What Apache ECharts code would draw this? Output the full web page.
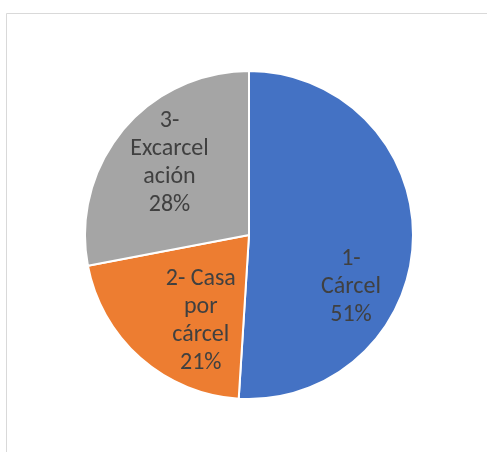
<!DOCTYPE html>
<html>
<head>
<meta charset="utf-8">
<script src="https://cdn.jsdelivr.net/npm/echarts@6/dist/echarts.min.js"></script>
<style>
  html, body { margin: 0; padding: 0; background: #ffffff; }
  #chart { width: 487px; height: 452px; }
</style>
</head>
<body>
<div id="chart"></div>
<script>
// Categories and their shares
const categories = ['1- Cárcel', '2- Casa por cárcel', '3- Excarcelación'];
const values = [51, 21, 28];
// Category names as they wrap inside each slice
const wrappedNames = ['1-\nCárcel', '2- Casa\npor\ncárcel', '3-\nExcarcel\nación'];
const colors = ['#4472C4', '#ED7D31', '#A5A5A5'];

// Nudges for the in-slice labels, relative to the default inside spot
const labelOffsets = [[17, 49], [8, 22], [-14, -18]];

const chart = echarts.init(document.getElementById('chart'), null, { renderer: 'canvas' });

chart.setOption({
  animation: false,
  backgroundColor: '#ffffff',
  graphic: [{
    type: 'rect',
    shape: { x: 6.5, y: 13.5, width: 600, height: 600 },
    style: { fill: 'none', stroke: '#d9d9d9', lineWidth: 1 },
    silent: true
  }],
  series: [{
    type: 'pie',
    center: [249, 235],
    radius: [0, 164],
    startAngle: 90,
    clockwise: true,
    silent: true,
    itemStyle: { borderColor: '#ffffff', borderWidth: 2 },
    label: {
      show: true,
      position: 'inside',
      color: '#404040',
      fontFamily: 'Carlito, Lato, sans-serif',
      fontSize: 24,
      lineHeight: 28,
      align: 'center',
      formatter: function (p) {
        return wrappedNames[p.dataIndex] + '\n' + Math.round(p.percent) + '%';
      }
    },
    labelLine: { show: false },
    data: categories.map(function (name, i) {
      return {
        name: name,
        value: values[i],
        itemStyle: { color: colors[i] },
        label: { offset: labelOffsets[i] }
      };
    })
  }]
});
</script>
</body>
</html>
